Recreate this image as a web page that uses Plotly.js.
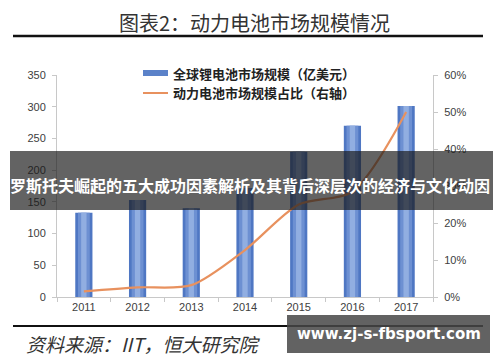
<!DOCTYPE html>
<html>
<head>
<meta charset="utf-8">
<script src="https://cdn.plot.ly/plotly-3.0.1.min.js"></script>
<style>
html,body{margin:0;padding:0;background:#fff;}
#chart{width:500px;height:362px;}
</style>
</head>
<body>
<div id="chart"></div>
<script>
// ---- data ----
var years = ['2011', '2012', '2013', '2014', '2015', '2016', '2017'];
var marketSize = [133, 153, 140, 172, 229, 270, 301];     // 全球锂电池市场规模（亿美元）
var powerShare = [1.5, 2.6, 3.2, 12.7, 25.0, 28.5, 50.0]; // 动力电池市场规模占比（%）
var leftTicks = [0, 50, 100, 150, 200, 250, 300, 350];
var rightTicks = [0, 10, 20, 30, 40, 50, 60];

var titleText = '图表2：动力电池市场规模情况';
var barName = '全球锂电池市场规模（亿美元）';
var lineName = '动力电池市场规模占比（右轴）';
var sourceText = '资料来源：IIT，恒大研究院';
var bannerText = '罗斯托夫崛起的五大成功因素解析及其背后深层次的经济与文化动因';
var watermarkText = 'www.zj-s-fbsport.com';

// ---- geometry helpers (plot area in pixels) ----
var PL = 57, PR = 433, PT = 75, PB = 297;
function px(x) { return (x - PL) / (PR - PL); }
function py(y) { return (PB - y) / (PB - PT); }

var shareFrac = powerShare.map(function (v) { return v / 100; });

var traces = [
  { type: 'bar', x: years, y: marketSize, width: 0.32, marker: { color: '#4f77c3' }, showlegend: false, hoverinfo: 'skip' },
  { type: 'bar', x: years, y: marketSize, width: 0.22, marker: { color: '#6d90d2' }, showlegend: false, hoverinfo: 'skip' },
  { type: 'bar', x: years, y: marketSize, width: 0.10, marker: { color: '#91aee1' }, showlegend: false, name: barName },
  { type: 'scatter', mode: 'lines', x: years, y: shareFrac, yaxis: 'y2', name: lineName,
    line: { color: '#e8915e', width: 2.2, shape: 'spline', smoothing: 0.8 }, showlegend: false }
];

var tickFont = { family: 'Liberation Sans, Arial, sans-serif', size: 11, color: '#404040' };
var cjk = 'Noto Sans CJK SC, sans-serif';

var shapes = [
  // title underline
  { type: 'line', xref: 'paper', yref: 'paper', x0: px(13), x1: px(483), y0: py(36), y1: py(36), line: { color: '#111', width: 2.5 } },
  // bottom line
  { type: 'line', xref: 'paper', yref: 'paper', x0: px(13), x1: px(483), y0: py(326), y1: py(326), line: { color: '#111', width: 2.2 } },
  // legend keys
  { type: 'rect', xref: 'paper', yref: 'paper', x0: px(143), x1: px(168), y0: py(76), y1: py(70), fillcolor: '#5b82c9', line: { width: 0 } },
  { type: 'line', xref: 'paper', yref: 'paper', x0: px(143), x1: px(168), y0: py(93), y1: py(93), line: { color: '#e8915e', width: 2 } },
  // overlay banner
  { type: 'rect', xref: 'paper', yref: 'paper', layer: 'above', x0: px(10), x1: px(493), y0: py(210), y1: py(151), fillcolor: 'rgba(25,25,25,0.68)', line: { width: 0 } },
  // watermark box
  { type: 'rect', xref: 'paper', yref: 'paper', layer: 'above', x0: px(287), x1: px(490), y0: py(353), y1: py(315), fillcolor: 'rgba(70,70,70,0.85)', line: { width: 0 } }
];

var annotations = [
  { xref: 'paper', yref: 'paper', x: px(255), y: py(22), xanchor: 'center', yanchor: 'middle', showarrow: false,
    text: titleText, font: { family: cjk, size: 20, color: '#333' } },
  { xref: 'paper', yref: 'paper', x: px(171), y: py(73), xanchor: 'left', yanchor: 'middle', showarrow: false,
    text: '<b>' + barName + '</b>', font: { family: cjk, size: 13, color: '#222' } },
  { xref: 'paper', yref: 'paper', x: px(171), y: py(93), xanchor: 'left', yanchor: 'middle', showarrow: false,
    text: '<b>' + lineName + '</b>', font: { family: cjk, size: 13, color: '#222' } },
  { xref: 'paper', yref: 'paper', x: px(24), y: py(343), xanchor: 'left', yanchor: 'middle', showarrow: false,
    text: '<i>' + sourceText + '</i>', font: { family: cjk, size: 19, color: '#333' } },
  { xref: 'paper', yref: 'paper', x: px(250), y: py(185), xanchor: 'center', yanchor: 'middle', showarrow: false,
    text: '<b>' + bannerText + '</b>', font: { family: cjk, size: 16, color: '#fff' } },
  { xref: 'paper', yref: 'paper', x: px(389), y: py(334), xanchor: 'center', yanchor: 'middle', showarrow: false,
    text: '<b>' + watermarkText + '</b>', font: { family: 'DejaVu Sans, sans-serif', size: 15, color: '#fff' } }
];

var layout = {
  width: 500, height: 362,
  margin: { l: PL, r: 500 - PR, t: PT, b: 362 - PB, pad: 0 },
  paper_bgcolor: '#ffffff', plot_bgcolor: '#ffffff',
  barmode: 'overlay',
  showlegend: false,
  xaxis: {
    type: 'category', tickfont: tickFont, showgrid: false, zeroline: false,
    showline: true, linecolor: '#c8c8c8', linewidth: 1,
    ticks: 'outside', tickson: 'boundaries', ticklen: 4, tickcolor: '#c8c8c8',
    range: [-0.5, 6.5], fixedrange: true
  },
  yaxis: {
    range: [0, 350], tickvals: leftTicks, ticktext: leftTicks.map(String), tickfont: tickFont,
    showgrid: false, zeroline: false, showline: true, linecolor: '#c8c8c8', linewidth: 1,
    ticks: 'outside', ticklen: 4, tickcolor: '#c8c8c8', ticklabelstandoff: 4
  },
  yaxis2: {
    overlaying: 'y', side: 'right', range: [0, 0.6],
    tickvals: rightTicks.map(function (v) { return v / 100; }), ticktext: rightTicks.map(function (v) { return v + '%'; }),
    tickfont: tickFont, showgrid: false, zeroline: false, showline: true, linecolor: '#c8c8c8', linewidth: 1,
    ticks: 'outside', ticklen: 4, tickcolor: '#c8c8c8', ticklabelstandoff: 4
  },
  shapes: shapes,
  annotations: annotations
};

Plotly.newPlot('chart', traces, layout, { displayModeBar: false, staticPlot: true });
</script>
</body>
</html>
